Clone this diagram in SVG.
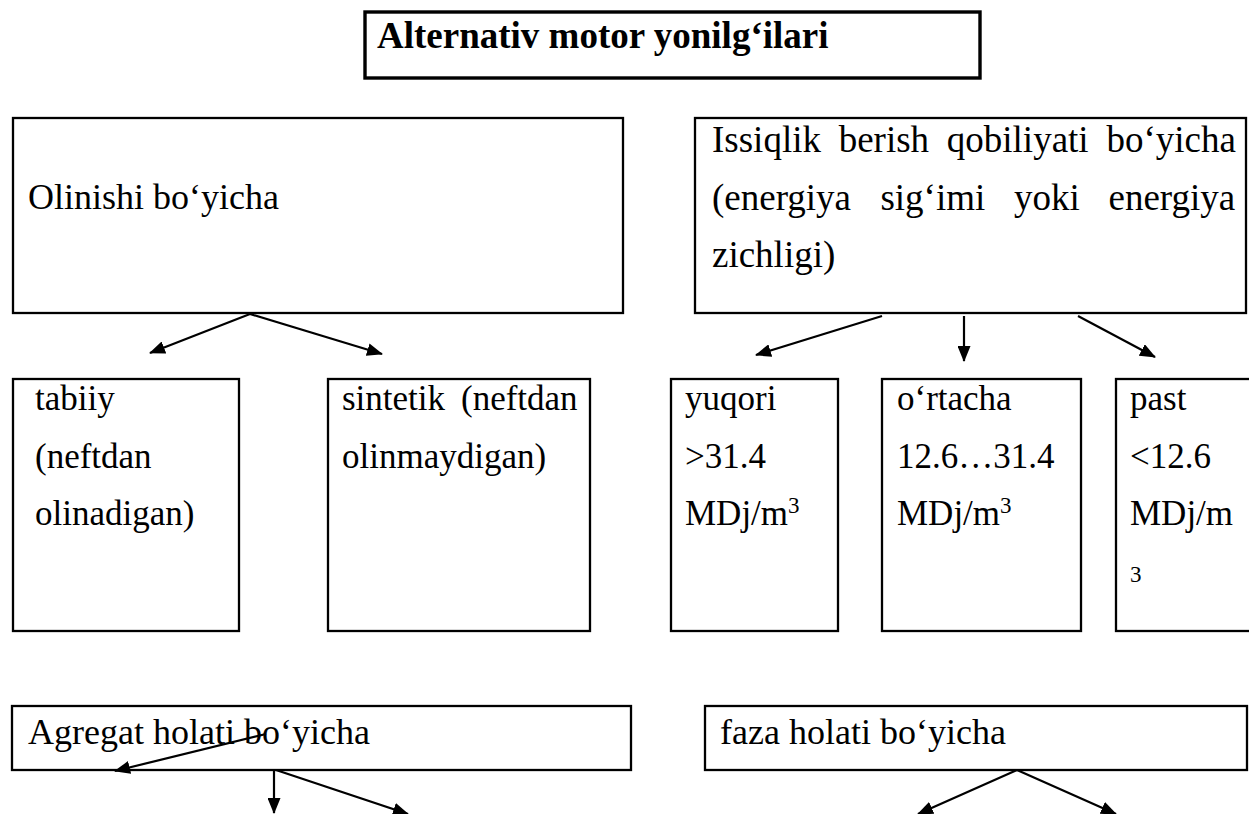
<svg xmlns="http://www.w3.org/2000/svg" width="1249" height="814" viewBox="0 0 1249 814">
<style>
.box{fill:#fff;stroke:#000;stroke-width:2.3}
.t{font-family:"Liberation Serif","Times New Roman",serif;font-size:36px;fill:#000}
.r2{font-size:35px}
.big{font-size:37px}
.title{font-family:"Liberation Serif","Times New Roman",serif;font-size:37px;font-weight:bold;fill:#000}
.sup{font-size:23px}
.c{stroke:#000;stroke-width:2.2;fill:none;marker-end:url(#ah)}
</style>
<defs>
<marker id="ah" viewBox="0 0 16 13" refX="15" refY="6.5" markerWidth="16" markerHeight="13" markerUnits="userSpaceOnUse" orient="auto">
<path d="M0,0 L16,6.5 L0,13 Z" fill="#000"/>
</marker>
</defs>
<rect width="1249" height="814" fill="#fff"/>
<g id="title">
<rect x="365" y="12" width="615" height="66" fill="#fff" stroke="#000" stroke-width="3.4"/>
<text class="title" x="377" y="48">Alternativ motor yonilg‘ilari</text>
</g>
<g id="olinishi">
<rect class="box" x="13" y="118" width="610" height="195"/>
<text class="t" x="28" y="209">Olinishi bo‘yicha</text>
</g>
<g id="issiqlik">
<rect class="box" x="695" y="118" width="551" height="195"/>
<text class="t big" y="152"><tspan x="712">Issiqlik</tspan><tspan x="838.7">berish</tspan><tspan x="946.8">qobiliyati</tspan><tspan x="1106.4">bo‘yicha</tspan></text>
<text class="t big" y="209.5"><tspan x="712">(energiya</tspan><tspan x="880.4">sig‘imi</tspan><tspan x="1014">yoki</tspan><tspan x="1108.5">energiya</tspan></text>
<text class="t big" x="712" y="267">zichligi)</text>
</g>
<g id="tabiiy">
<rect class="box" x="13" y="379" width="226" height="252"/>
<text class="t r2" x="35" y="410">tabiiy</text>
<text class="t r2" x="35" y="467.5">(neftdan</text>
<text class="t r2" x="35" y="525">olinadigan)</text>
</g>
<g id="sintetik">
<rect class="box" x="328" y="379" width="262" height="252"/>
<text class="t r2" y="410"><tspan x="342">sintetik</tspan><tspan x="461">(neftdan</tspan></text>
<text class="t r2" x="342" y="467.5">olinmaydigan)</text>
</g>
<g id="yuqori">
<rect class="box" x="671" y="379" width="167" height="252"/>
<text class="t r2" x="685" y="410">yuqori</text>
<text class="t r2" x="685" y="467.5">&gt;31.4</text>
<text class="t r2" x="685" y="525">MDj/m<tspan class="sup" dy="-12">3</tspan></text>
</g>
<g id="ortacha">
<rect class="box" x="882" y="379" width="199" height="252"/>
<text class="t r2" x="897" y="410">o‘rtacha</text>
<text class="t r2" x="897" y="467.5">12.6…31.4</text>
<text class="t r2" x="897" y="525">MDj/m<tspan class="sup" dy="-12">3</tspan></text>
</g>
<g id="past">
<rect class="box" x="1116" y="379" width="150" height="252"/>
<text class="t r2" x="1130" y="410">past</text>
<text class="t r2" x="1130" y="467.5">&lt;12.6</text>
<text class="t r2" x="1130" y="525">MDj/m</text>
<text class="t sup" x="1130" y="582">3</text>
</g>
<g id="agregat">
<rect class="box" x="12" y="706" width="619" height="64"/>
<text class="t" x="28" y="744">Agregat holati bo‘yicha</text>
</g>
<g id="faza">
<rect class="box" x="705" y="706" width="542" height="64"/>
<text class="t" x="720" y="744">faza holati bo‘yicha</text>
</g>
<g id="connectors">
<line class="c" x1="250" y1="314" x2="150" y2="353"/>
<line class="c" x1="250" y1="314" x2="382" y2="354"/>
<line class="c" x1="882" y1="316" x2="756" y2="355"/>
<line class="c" x1="964" y1="316" x2="964" y2="361"/>
<line class="c" x1="1078" y1="316" x2="1155" y2="357"/>
<line class="c" x1="266" y1="734" x2="115" y2="771"/>
<line class="c" x1="274" y1="770" x2="274" y2="813"/>
<line class="c" x1="276" y1="770" x2="408" y2="814"/>
<line class="c" x1="1017" y1="770" x2="918" y2="814"/>
<line class="c" x1="1017" y1="770" x2="1116" y2="814"/>
</g>
</svg>
